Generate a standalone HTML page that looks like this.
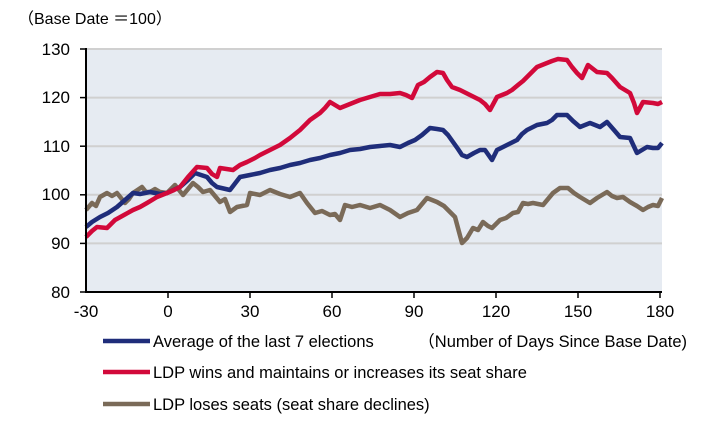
<!DOCTYPE html>
<html><head><meta charset="utf-8"><style>
body{margin:0;background:#fff;}
svg{display:block;font-family:"Liberation Sans","Noto Sans CJK JP",sans-serif;}
</style></head><body>
<svg width="707" height="426" viewBox="0 0 707 426">
<rect x="86" y="49" width="576" height="243" fill="#e6ebf2"/>
<g stroke="#d0d0d0" stroke-width="2">
<line x1="86" y1="49" x2="662" y2="49"/><line x1="86" y1="97.6" x2="662" y2="97.6"/>
<line x1="86" y1="146.2" x2="662" y2="146.2"/><line x1="86" y1="194.8" x2="662" y2="194.8"/>
<line x1="86" y1="243.4" x2="662" y2="243.4"/>
</g>
<g fill="none" stroke-width="4.5" stroke-linejoin="round">
<polyline stroke="#7a6a58" points="86,210 92,203 96,206 100,197 107,193 112,196 117,193 125,203 129,199 133,193 142,187 146,192 150,192 155,189 160,192 167,193 175,185 179,190 183,195 193,183 198,187 203,192 210,190 220,202 225,199 230,212 237,207 247,205 250,193 260,195 270,190 280,194 290,197 300,193 307,203 315,213 322,211 330,215 335,214 340,220 345,205 352,207 360,205 370,208 380,205 390,210 400,217 408,213 417,210 427,198 437,202 444,206 450,212 455,217 462,243 467,238 473,228 478,230 483,222 488,226 492,228 500,220 506,218 513,213 518,212 523,203 528,204 533,203 543,205 553,193 560,188 568,188 574,193 580,197 590,203 597,198 607,192 612,196 617,198 623,197 630,202 637,206 643,210 648,207 653,205 658,206 662,198"/>
<polyline stroke="#1f2d7a" points="86,227 92,222 100,217 108,213 117,207 125,200 133,193 140,194 150,192 160,194 167,193 180,187 188,180 195,173 207,177 212,183 217,187 230,190 240,177 250,175 260,173 270,170 280,168 290,165 300,163 310,160 320,158 330,155 340,153 350,150 360,149 370,147 380,146 390,145 400,147 408,143 415,140 422,135 430,128 437,129 443,130 448,135 453,142 458,149 462,155 467,157 474,153 480,150 485,150 492,160 497,150 507,145 517,140 522,134 527,130 537,125 547,123 552,120 557,115 567,115 573,121 580,127 590,123 600,127 607,122 614,130 620,137 630,138 637,153 642,150 647,147 653,148 658,148 662,143"/>
<polyline stroke="#d2093a" points="86,237 92,231 97,227 107,228 115,220 124,215 133,210 140,207 147,203 157,197 167,193 174,190 180,187 188,177 197,167 207,168 212,174 217,177 220,168 233,170 240,165 247,162 255,158 260,155 270,150 280,145 290,138 300,130 310,120 320,113 325,108 330,102 340,108 350,104 360,100 370,97 380,94 390,94 400,93 406,95 412,98 418,85 424,82 430,77 437,72 443,73 447,80 452,87 460,90 470,95 480,100 485,104 490,110 497,97 507,93 512,90 518,85 523,81 527,77 537,67 547,63 552,61 558,59 567,60 572,67 577,73 582,78 588,65 597,72 607,73 612,78 620,87 630,93 634,103 637,113 643,102 653,103 658,104 662,102"/>
</g>
<g stroke="#000" stroke-width="2">
<line x1="86" y1="48" x2="86" y2="293"/><line x1="85" y1="292" x2="662" y2="292"/>
</g>
<g stroke="#000" stroke-width="1.5">
<line x1="80" y1="49" x2="86" y2="49"/><line x1="80" y1="97.6" x2="86" y2="97.6"/><line x1="80" y1="146.2" x2="86" y2="146.2"/><line x1="80" y1="194.8" x2="86" y2="194.8"/><line x1="80" y1="243.4" x2="86" y2="243.4"/><line x1="80" y1="292" x2="86" y2="292"/>
<line x1="168" y1="292" x2="168" y2="298"/><line x1="250" y1="292" x2="250" y2="298"/><line x1="332" y1="292" x2="332" y2="298"/><line x1="414" y1="292" x2="414" y2="298"/><line x1="496" y1="292" x2="496" y2="298"/><line x1="578" y1="292" x2="578" y2="298"/><line x1="660" y1="292" x2="660" y2="298"/>
</g>
<g font-size="17" fill="#000" text-anchor="end">
<text x="70" y="55">130</text><text x="70" y="103">120</text><text x="70" y="152">110</text><text x="70" y="200">100</text><text x="70" y="249">90</text><text x="70" y="298">80</text>
</g>
<g font-size="17" fill="#000" text-anchor="middle">
<text x="86" y="317">-30</text><text x="168" y="317">0</text><text x="250" y="317">30</text><text x="332" y="317">60</text><text x="414" y="317">90</text><text x="496" y="317">120</text><text x="578" y="317">150</text><text x="660" y="317">180</text>
</g>
<text x="18" y="24" font-size="16">（Base Date ＝100）</text>
<text x="687" y="347" font-size="16.5" text-anchor="end">（Number of Days Since Base Date)</text>
<g stroke-width="4.5">
<line x1="103" y1="341" x2="150" y2="341" stroke="#1f2d7a"/>
<line x1="103" y1="372" x2="150" y2="372" stroke="#d2093a"/>
<line x1="103" y1="404" x2="150" y2="404" stroke="#7a6a58"/>
</g>
<g font-size="16.5" fill="#000">
<text x="153" y="347">Average of the last 7 elections</text>
<text x="153" y="378">LDP wins and maintains or increases its seat share</text>
<text x="153" y="410">LDP loses seats (seat share declines)</text>
</g>
</svg>
</body></html>
